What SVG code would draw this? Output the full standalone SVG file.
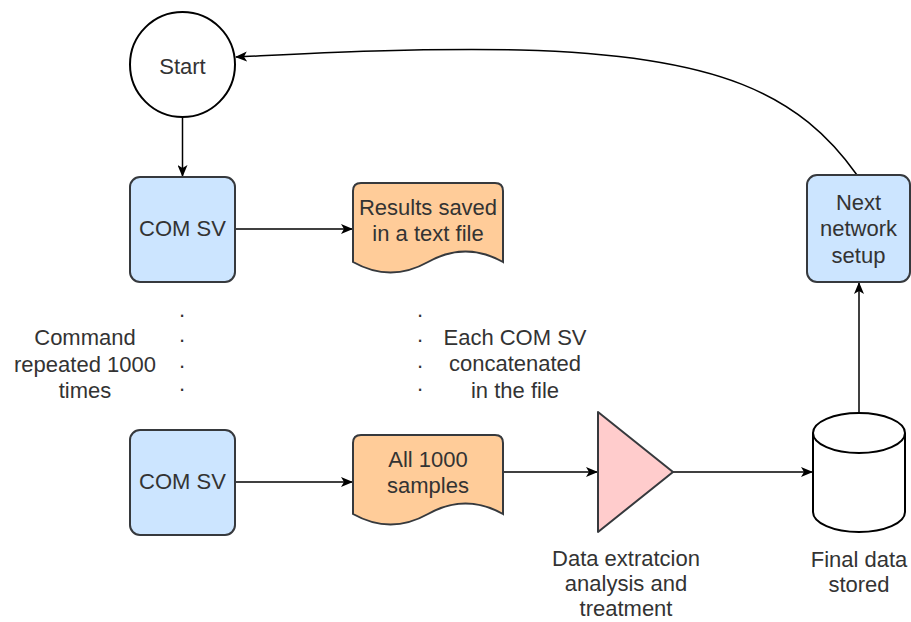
<svg xmlns="http://www.w3.org/2000/svg" width="911" height="622" viewBox="0 0 911 622">
<defs>
<marker id="arr" viewBox="0 0 12 10" refX="11" refY="5" markerWidth="12" markerHeight="10" markerUnits="userSpaceOnUse" orient="auto">
<path d="M0,0 L12,5 L0,10 L3,5 Z" fill="#000"/>
</marker>
</defs>
<style>
text{font-family:"Liberation Sans",Arial,sans-serif;font-size:22px;fill:#333;text-anchor:middle}
.proc{fill:#cce5ff;stroke:#36393d;stroke-width:2}
.doc{fill:#ffcc99;stroke:#36393d;stroke-width:2}
.tri{fill:#ffcccc;stroke:#36393d;stroke-width:2;stroke-linejoin:round}
.plain{fill:#fff;stroke:#000;stroke-width:2}
.edge{fill:none;stroke:#000;stroke-width:1.5;marker-end:url(#arr)}
</style>
<rect width="911" height="622" fill="#fff"/>
<g id="connectors">
<line class="edge" x1="182.5" y1="117" x2="182.5" y2="176"/>
<line class="edge" x1="235" y1="229" x2="352" y2="229"/>
<line class="edge" x1="235" y1="482" x2="352" y2="482"/>
<line class="edge" x1="500" y1="472" x2="597" y2="472"/>
<line class="edge" x1="673" y1="472" x2="812" y2="472"/>
<line class="edge" x1="859" y1="413" x2="859" y2="283"/>
<path class="edge" d="M857,175 C800,95 720,55 520,50 C400,48 300,54 236,57"/>
</g>
<g id="start">
<circle class="plain" cx="182.5" cy="64.5" r="52.5"/>
<text x="182.5" y="74">Start</text>
</g>
<g id="comsv1">
<rect class="proc" x="130" y="177" width="105" height="105" rx="10"/>
<text x="182.5" y="236">COM SV</text>
</g>
<g id="results">
<path class="doc" d="M361,183 H495 Q503,183 503,191 V262 Q465.5,241 428,262 Q390.5,283 353,262 V191 Q353,183 361,183 Z"/>
<text x="428" y="215">Results saved</text>
<text x="428" y="241">in a text file</text>
</g>
<g id="dots1">
<text x="182" y="317">.</text>
<text x="182" y="342">.</text>
<text x="182" y="368">.</text>
<text x="182" y="391">.</text>
</g>
<g id="command-label">
<text x="85" y="345">Command</text>
<text x="85" y="372">repeated 1000</text>
<text x="85" y="398">times</text>
</g>
<g id="dots2">
<text x="420" y="317">.</text>
<text x="420" y="342">.</text>
<text x="420" y="368">.</text>
<text x="420" y="391">.</text>
</g>
<g id="concat-label">
<text x="515" y="345">Each COM SV</text>
<text x="515" y="371">concatenated</text>
<text x="515" y="398">in the file</text>
</g>
<g id="comsv2">
<rect class="proc" x="130" y="430" width="105" height="105" rx="10"/>
<text x="182.5" y="489">COM SV</text>
</g>
<g id="samples">
<path class="doc" d="M361,435 H495 Q503,435 503,443 V514 Q465.5,493 428,514 Q390.5,535 353,514 V443 Q353,435 361,435 Z"/>
<text x="428" y="467">All 1000</text>
<text x="428" y="493">samples</text>
</g>
<g id="extraction">
<path class="tri" d="M598,412 L673,472 L598,532 Z"/>
<text x="626" y="566">Data extratcion</text>
<text x="626" y="591">analysis and</text>
<text x="626" y="616">treatment</text>
</g>
<g id="storage">
<path class="plain" d="M813,433 A46,20 0 0 1 905,433 V512 A46,20 0 0 1 813,512 Z"/>
<path fill="none" stroke="#000" stroke-width="2" d="M813,433 A46,20 0 0 0 905,433"/>
<text x="859" y="567">Final data</text>
<text x="859" y="592">stored</text>
</g>
<g id="next">
<rect class="proc" x="807" y="175" width="103" height="107" rx="10"/>
<text x="858.5" y="210">Next</text>
<text x="858.5" y="236">network</text>
<text x="858.5" y="263">setup</text>
</g>
</svg>
